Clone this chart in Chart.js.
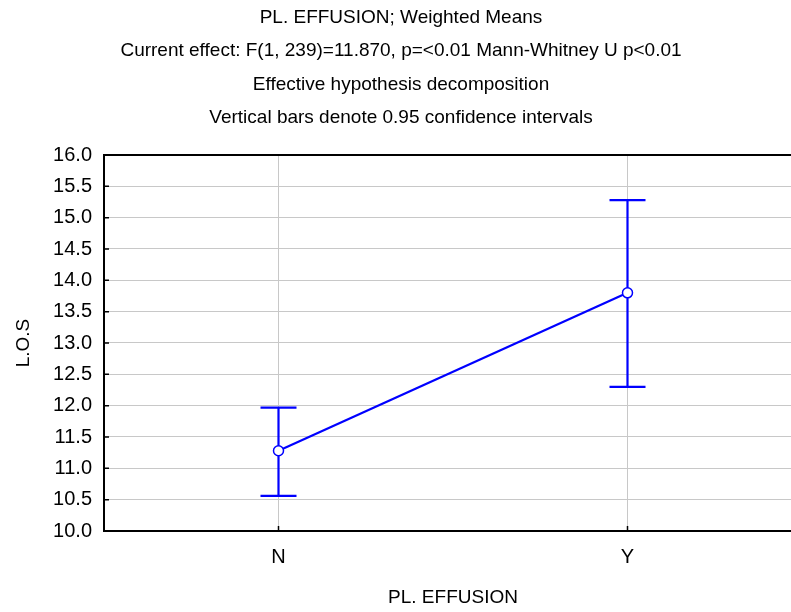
<!DOCTYPE html>
<html>
<head>
<meta charset="utf-8">
<script src="https://cdn.jsdelivr.net/npm/chart.js@4.4.0/dist/chart.umd.min.js"></script>
<style>
  html, body { margin: 0; padding: 0; background: #fff; overflow: hidden; }
  #wrap { width: 810px; height: 612px; }
</style>
</head>
<body>
<div id="wrap"><canvas id="c" width="810" height="612"></canvas></div>
<script>
// ---- data ----
const categories = ['N', 'Y'];
const means = [11.28, 13.80];
const upperCI = [11.97, 15.28];
const lowerCI = [10.56, 12.30];
const titleLines = [
  'PL. EFFUSION; Weighted Means',
  'Current effect: F(1, 239)=11.870, p=<0.01 Mann-Whitney U p<0.01',
  'Effective hypothesis decomposition',
  'Vertical bars denote 0.95 confidence intervals'
];
const xTitle = 'PL. EFFUSION';
const yTitle = 'L.O.S';
const yMin = 10.0, yMax = 16.0, yStep = 0.5;

const FONT = "'Liberation Sans', Arial, sans-serif";
const BLUE = '#0000FF';

const errorBars = {
  id: 'errorBars',
  beforeDatasetsDraw(chart) {
    const ctx = chart.ctx;
    const xs = chart.scales.x, ys = chart.scales.y;
    ctx.save();
    ctx.strokeStyle = BLUE;
    ctx.lineWidth = 2.2;
    categories.forEach((c, i) => {
      const x = xs.getPixelForValue(i);
      const yu = ys.getPixelForValue(upperCI[i]);
      const yl = ys.getPixelForValue(lowerCI[i]);
      ctx.beginPath();
      ctx.moveTo(x, yu); ctx.lineTo(x, yl);
      ctx.moveTo(x - 18, yu); ctx.lineTo(x + 18, yu);
      ctx.moveTo(x - 18, yl); ctx.lineTo(x + 18, yl);
      ctx.stroke();
    });
    ctx.restore();
  }
};

const frame = {
  id: 'frame',
  beforeDatasetsDraw(chart) {
    const ctx = chart.ctx;
    const a = chart.chartArea;
    const xs = chart.scales.x, ys = chart.scales.y;
    ctx.save();
    ctx.strokeStyle = '#000';
    ctx.lineWidth = 2;
    ctx.beginPath();
    ctx.moveTo(a.right + 5, a.top); ctx.lineTo(a.left, a.top);
    ctx.lineTo(a.left, a.bottom); ctx.lineTo(a.right + 5, a.bottom);
    ctx.stroke();
    ctx.lineWidth = 1.5;
    ctx.beginPath();
    ys.ticks.forEach(t => {
      const y = ys.getPixelForValue(t.value);
      ctx.moveTo(a.left, y); ctx.lineTo(a.left + 5, y);
    });
    xs.ticks.forEach(t => {
      const x = xs.getPixelForValue(t.value);
      ctx.moveTo(x, a.bottom); ctx.lineTo(x, a.bottom - 5);
    });
    ctx.stroke();
    ctx.restore();
  }
};

new Chart(document.getElementById('c'), {
  type: 'line',
  data: {
    labels: categories,
    datasets: [{
      data: means,
      borderColor: BLUE,
      borderWidth: 2.2,
      pointRadius: 5,
      pointBackgroundColor: '#fff',
      pointBorderColor: BLUE,
      pointBorderWidth: 1.5,
      tension: 0
    }]
  },
  options: {
    responsive: false,
    animation: false,
    layout: { padding: { left: 0, right: 8, top: 0, bottom: 0 } },
    plugins: {
      legend: { display: false },
      tooltip: { enabled: false },
      title: {
        display: true,
        text: titleLines,
        color: '#000',
        font: { family: FONT, size: 19, weight: 'normal', lineHeight: 1.763 },
        padding: { top: 1, bottom: 20 }
      }
    },
    scales: {
      x: {
        type: 'category',
        offset: true,
        grid: { color: '#C8C8C8', lineWidth: 1, offset: false, drawTicks: false },
        border: { display: false },
        ticks: { color: '#000', font: { family: FONT, size: 20 }, padding: 14 },
        title: { display: true, text: xTitle, color: '#000',
                 font: { family: FONT, size: 19 }, padding: { top: 0, bottom: 3 } },
        afterFit(scale) { scale.height = 81; }
      },
      y: {
        min: yMin, max: yMax,
        grid: { color: '#C8C8C8', lineWidth: 1, drawTicks: false },
        border: { display: false },
        ticks: { stepSize: yStep, color: '#000', font: { family: FONT, size: 20 }, padding: 12,
                 callback: v => v.toFixed(1) },
        title: { display: true, text: yTitle, color: '#000',
                 font: { family: FONT, size: 19 }, padding: { top: 12, bottom: 0 } },
        afterFit(scale) { scale.width = 104; }
      }
    }
  },
  plugins: [frame, errorBars]
});
</script>
</body>
</html>
